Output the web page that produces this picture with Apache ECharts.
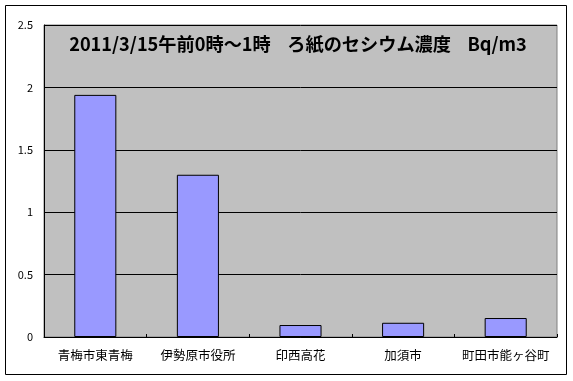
<!DOCTYPE html>
<html><head><meta charset="utf-8">
<script src="https://cdn.jsdelivr.net/npm/echarts@6/dist/echarts.min.js"></script>
<style>html,body{margin:0;padding:0;background:#fff}#c{width:573px;height:381px}</style>
</head><body><div id="c"></div>
<script>
var categories = ['青梅市東青梅', '伊勢原市役所', '印西高花', '加須市', '町田市能ヶ谷町'];
var values = [1.94, 1.30, 0.096, 0.114, 0.152];
var yTicks = {min: 0, max: 2.5, interval: 0.5};
var titleText = '2011/3/15午前0時～1時    ろ紙のセシウム濃度    Bq/m3';

var chart = echarts.init(document.getElementById('c'), null, {renderer: 'canvas'});
var font = '"Noto Sans CJK JP", sans-serif';
chart.setOption({
  animation: false,
  backgroundColor: '#fff',
  graphic: [{
    type: 'rect', shape: {x: 5.5, y: 5.5, width: 561, height: 369},
    style: {fill: 'none', stroke: '#000', lineWidth: 1}, z: 100
  }],
  title: {
    text: titleText, left: 293, top: 30, textAlign: 'center',
    textStyle: {fontFamily: font, fontWeight: 'bold', fontSize: 18.2, color: '#000'}
  },
  grid: {left: 44, top: 25, right: 16, bottom: 44, show: true,
    backgroundColor: '#C0C0C0', borderColor: '#808080', borderWidth: 1},
  xAxis: {
    type: 'category', data: categories,
    axisLine: {lineStyle: {color: '#000', width: 1}},
    axisTick: {show: true, inside: true, length: 3, lineStyle: {color: '#000'}},
    axisLabel: {fontFamily: font, fontSize: 12.5, color: '#000', margin: 12, interval: 0}
  },
  yAxis: {
    type: 'value', min: yTicks.min, max: yTicks.max, interval: yTicks.interval,
    axisLine: {show: true, lineStyle: {color: '#000', width: 1}},
    axisTick: {show: false},
    splitLine: {lineStyle: {color: '#000', width: 1}},
    axisLabel: {fontFamily: font, fontSize: 11, color: '#000', margin: 11}
  },
  series: [{
    type: 'bar', data: values, barWidth: '41%',
    itemStyle: {color: '#9999FF', borderColor: '#000', borderWidth: 1}
  }]
});
</script></body></html>
